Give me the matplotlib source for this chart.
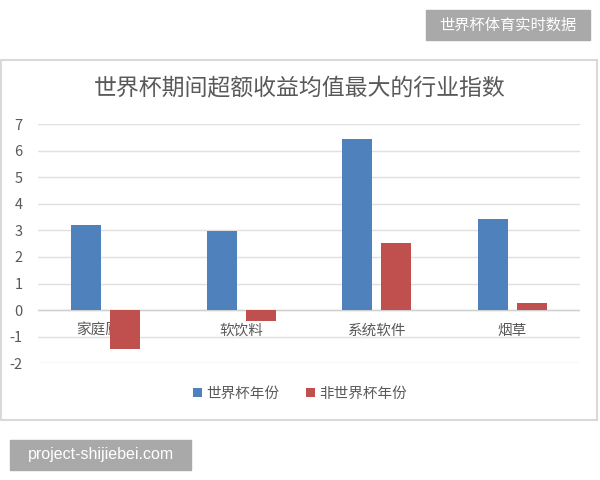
import matplotlib
matplotlib.use("Agg")
import matplotlib.pyplot as plt
from matplotlib.patches import Rectangle
import numpy as np

plt.rcParams['font.family'] = ['Noto Sans CJK SC', 'DejaVu Sans']

categories = ["家庭厨具", "软饮料", "系统软件", "烟草"]
series_names = ["世界杯年份", "非世界杯年份"]
wc_values = [3.22, 2.98, 6.45, 3.41]
non_wc_values = [-1.45, -0.42, 2.53, 0.28]
yticks = [-2, -1, 0, 1, 2, 3, 4, 5, 6, 7]
title = "世界杯期间超额收益均值最大的行业指数"
colors = ["#4f81bd", "#c0504d"]
text_color = "#595959"

fig = plt.figure(figsize=(6, 4.8), dpi=100)
W, H = 600, 480

def fx(px):
    return px / W

def fy(py):
    return 1 - py / H

# chart frame
fig.patches.append(Rectangle((fx(1), fy(420)), fx(596), (420 - 60) / H,
                             transform=fig.transFigure, fill=False,
                             edgecolor="#d9d9d9", linewidth=1.5, zorder=0))

ax = fig.add_axes([fx(38), fy(363.3), (580 - 38) / W, (363.3 - 124) / H])
ax.set_facecolor("none")
x = np.arange(len(categories))
bw = 0.22
gap = 0.068
off = (bw + gap) / 2
ax.bar(x - off, wc_values, width=bw, color=colors[0], zorder=3, label=series_names[0])
ax.bar(x + off, non_wc_values, width=bw, color=colors[1], zorder=3, label=series_names[1])

ax.set_xlim(-0.5, len(categories) - 0.5)
ax.set_ylim(-2, 7)
ax.set_yticks(yticks)
ax.set_yticklabels([str(v) for v in yticks], fontsize=10.5, color=text_color)
ax.yaxis.grid(True, color="#e0e0e0", linewidth=1)
ax.set_axisbelow(True)
ax.tick_params(axis='y', length=0, pad=11)
ax.set_xticks([])
for s in ax.spines.values():
    s.set_visible(False)
ax.axhline(0, color="#d0d0d0", linewidth=1, zorder=2)

for i, c in enumerate(categories):
    ax.annotate(c, xy=(i, 0), xytext=(0, -21), textcoords="offset pixels",
                ha="center", va="center", fontsize=10.5, color=text_color, zorder=1)

fig.text(0.5, fy(89), title, ha="center", va="center", fontsize=16.5, color=text_color)

leg = fig.legend(loc="center", bbox_to_anchor=(0.5, fy(394)), ncol=2, frameon=False,
                 fontsize=10.5, handlelength=0.6, handleheight=0.6, handletextpad=0.3,
                 columnspacing=1.8)
for t in leg.get_texts():
    t.set_color(text_color)

# watermark boxes
fig.patches.append(Rectangle((fx(426), fy(40)), (590 - 426) / W, 30 / H,
                             transform=fig.transFigure, color="#a9a9a9", zorder=0))
fig.text(fx(508), fy(25), "世界杯体育实时数据", ha="center", va="center",
         fontsize=11, color="white")
fig.patches.append(Rectangle((fx(10), fy(470)), (191 - 10) / W, 30 / H,
                             transform=fig.transFigure, color="#a9a9a9", zorder=0))
fig.text(fx(100.5), fy(455), "project-shijiebei.com", ha="center", va="center",
         fontsize=11.5, color="white", family=["Liberation Sans", "DejaVu Sans"])

fig.savefig("out.png", dpi=100)
